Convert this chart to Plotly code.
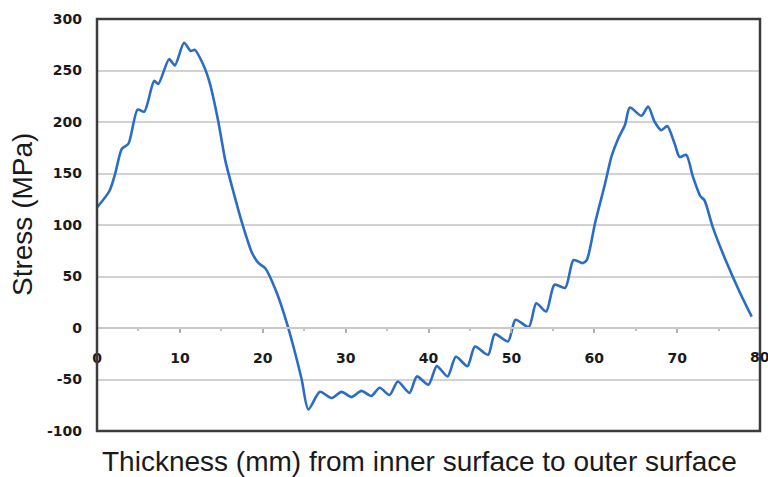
import plotly.graph_objects as go

thickness_mm = [0, 1.5, 2.2, 3.0, 3.8, 4.9, 5.7, 6.9, 7.4, 8.7, 9.4, 10.5, 11.3, 11.8,
                12.8, 13.6, 14.6, 15.5, 16.6, 17.5, 18.7, 19.5, 20.3, 21.7, 22.9, 23.9,
                24.7, 25.5, 26.9, 28.3, 29.5, 30.7, 31.9, 33.1, 34.1, 35.3, 36.3, 37.7,
                38.6, 40.0, 41.0, 42.3, 43.3, 44.7, 45.6, 47.2, 48.0, 49.6, 50.5, 52.1,
                53.0, 54.2, 55.2, 56.5, 57.5, 58.6, 59.1, 60.1, 61.3, 62.1, 62.9, 63.7,
                64.3, 65.7, 66.5, 67.3, 68.1, 68.8, 69.7, 70.3, 71.1, 71.9, 72.8, 73.3,
                74.3, 76.0, 77.6, 79.0]
stress_mpa = [117, 133, 150, 174, 179, 212, 210, 240, 237, 261, 255, 277, 269, 270,
              256, 238, 202, 162, 128, 102, 73, 63, 58, 34, 5, -24,
              -50, -79, -62, -68, -62, -67, -61, -66, -58, -65, -52, -63,
              -47, -55, -37, -47, -28, -37, -18, -26, -6, -13, 8, 1,
              24, 16, 42, 39, 66, 63, 66, 102, 140, 167, 184, 197,
              214, 206, 215, 200, 192, 196, 179, 166, 168, 147, 128, 124,
              98, 63, 34, 11]

x_ticks = [0, 10, 20, 30, 40, 50, 60, 70, 80]
y_ticks = [-100, -50, 0, 50, 100, 150, 200, 250, 300]

x_title = "Thickness (mm) from inner surface to outer surface"
y_title = "Stress (MPa)"

fig = go.Figure()
fig.add_trace(go.Scatter(
    x=thickness_mm, y=stress_mpa, mode="lines",
    line=dict(color="#2b6cc4", width=2.6, shape="spline", smoothing=0.7),
    showlegend=False, hoverinfo="skip",
))

tick_font = dict(family="DejaVu Sans", size=14, color="#1a1a1a", weight="bold")

# last x tick label sits on the right frame edge; drawn as annotation so it is not dropped
edge_labels = [dict(text=str(x_ticks[-1]), xref="x", yref="y", x=x_ticks[-1], y=0,
                    xanchor="center", yanchor="middle", yshift=-29, showarrow=False,
                    font=tick_font)]

fig.update_layout(
    width=768, height=477,
    margin=dict(l=97, r=8, t=19, b=46),
    paper_bgcolor="white", plot_bgcolor="white",
    xaxis=dict(
        range=[0, 80], tickvals=x_ticks[:-1], ticktext=[str(v) for v in x_ticks[:-1]],
        anchor="free", position=0.25,
        showline=True, linecolor="#c8c8c8", linewidth=2,
        ticks="outside", ticklen=4, tickcolor="#b0b0b0", tickwidth=1.5,
        minor=dict(dtick=5, ticks="outside", ticklen=2, tickcolor="#c0c0c0"),
        showgrid=False, zeroline=False,
        tickfont=tick_font, ticklabelstandoff=13,
    ),
    yaxis=dict(
        range=[-100, 300], tickvals=y_ticks, ticktext=[str(v) for v in y_ticks],
        showgrid=True, gridcolor="#d2d2d2", gridwidth=2,
        zeroline=False, showline=False, ticks="",
        tickfont=tick_font, ticklabelstandoff=14,
    ),
    shapes=[dict(type="rect", xref="paper", yref="paper", x0=0, y0=0, x1=1, y1=1,
                 line=dict(color="#3c3c3c", width=2.5), layer="above")],
    annotations=edge_labels + [
        dict(text=x_title, xref="paper", yref="paper", x=0.5, y=0,
             xanchor="center", yanchor="middle", xshift=-9, yshift=-30,
             showarrow=False,
             font=dict(family="Liberation Sans", size=28, color="#1a1a1a")),
        dict(text=y_title, xref="paper", yref="paper", x=0, y=0.5,
             xanchor="center", yanchor="middle", xshift=-75, yshift=10,
             textangle=-90, showarrow=False,
             font=dict(family="Liberation Sans", size=28, color="#1a1a1a")),
    ],
)

fig.write_html("out.html")
